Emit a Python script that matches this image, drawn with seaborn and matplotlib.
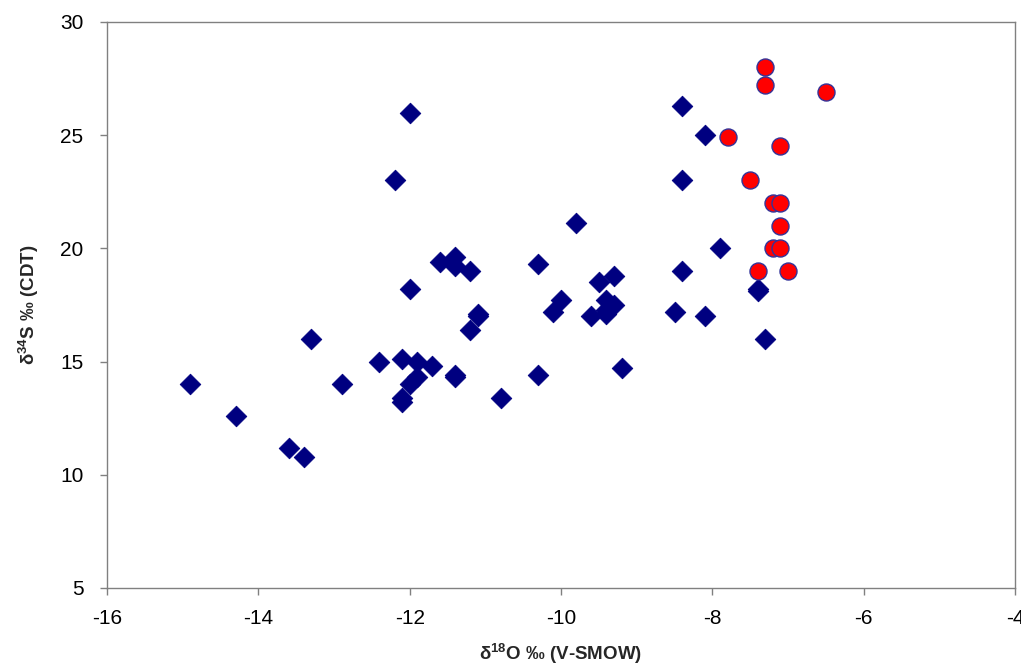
import matplotlib
matplotlib.use("Agg")
import matplotlib.pyplot as plt
import seaborn as sns
import pandas as pd

# Blue diamonds (group 1)
blue_x = [-14.9, -14.3, -13.6, -13.4, -13.3, -12.9, -12.4, -12.2, -12.0, -12.0,
          -12.1, -11.9, -11.7, -11.4, -11.4, -11.9, -12.0, -12.1, -12.1,
          -11.1, -11.1, -11.2, -10.8, -11.6, -11.4, -11.4, -11.2,
          -10.3, -10.0, -10.1, -9.5, -9.3, -9.4, -9.3, -9.4, -9.6, -9.4,
          -8.5, -8.4, -10.3, -9.2, -9.8,
          -8.4, -8.1, -8.4, -7.9, -7.4, -7.4, -8.1, -7.3]
blue_y = [14.0, 12.6, 11.2, 10.8, 16.0, 14.0, 15.0, 23.0, 26.0, 18.2,
          15.1, 15.0, 14.8, 14.4, 14.3, 14.3, 14.0, 13.4, 13.2,
          17.1, 17.0, 16.4, 13.4, 19.4, 19.6, 19.2, 19.0,
          19.3, 17.7, 17.2, 18.5, 18.8, 17.7, 17.5, 17.1, 17.0, 17.3,
          17.2, 19.0, 14.4, 14.7, 21.1,
          26.3, 25.0, 23.0, 20.0, 18.2, 18.1, 17.0, 16.0]

# Red circles (group 2)
red_x = [-7.3, -7.3, -6.5, -7.8, -7.1, -7.5, -7.2, -7.1, -7.1, -7.2, -7.1, -7.4, -7.0]
red_y = [28.0, 27.2, 26.9, 24.9, 24.5, 23.0, 22.0, 22.0, 21.0, 20.0, 20.0, 19.0, 19.0]

x_ticks = [-16, -14, -12, -10, -8, -6, -4]
y_ticks = [5, 10, 15, 20, 25, 30]

sns.set_theme(style="white")
plt.rcParams['font.family'] = ['Liberation Sans', 'DejaVu Sans']
plt.rcParams['mathtext.fontset'] = 'custom'
plt.rcParams['mathtext.rm'] = 'Liberation Sans'
plt.rcParams['mathtext.bf'] = 'Liberation Sans:bold'

df_blue = pd.DataFrame({"x": blue_x, "y": blue_y})
df_red = pd.DataFrame({"x": red_x, "y": red_y})

fig = plt.figure(figsize=(10.21, 6.68), dpi=100)
ax = fig.add_axes([0.1048, 0.1198, 0.8894, 0.8473])

sns.scatterplot(data=df_blue, x="x", y="y", marker="D", s=110, color="#000080",
                edgecolor="#000080", linewidth=0.6, ax=ax, zorder=3)
sns.scatterplot(data=df_red, x="x", y="y", marker="o", s=150, color="#FF0000",
                edgecolor="#333399", linewidth=1.0, ax=ax, zorder=4)

ax.set_xlim(-16, -4)
ax.set_ylim(5, 30)
ax.set_xticks(x_ticks)
ax.set_yticks(y_ticks)
ax.set_xticklabels([str(t) for t in x_ticks])
ax.set_yticklabels([str(t) for t in y_ticks])

for sp in ax.spines.values():
    sp.set_color("#808080")
    sp.set_linewidth(1.0)
    sp.set_visible(True)

ax.tick_params(axis="both", which="major", direction="out", length=5, width=1,
               color="#808080", labelsize=15, labelcolor="black")
ax.tick_params(axis="x", bottom=True, top=False, pad=10)
ax.tick_params(axis="y", left=True, right=False, pad=12)

ax.set_xlabel(r"δ$^{\mathbf{18}}$O ‰ (V-SMOW)", fontsize=13.5, fontweight="bold", labelpad=10)
ax.set_ylabel(r"δ$^{\mathbf{34}}$S ‰ (CDT)", fontsize=13.5, fontweight="bold", labelpad=14)

fig.savefig("out.png", dpi=100)
